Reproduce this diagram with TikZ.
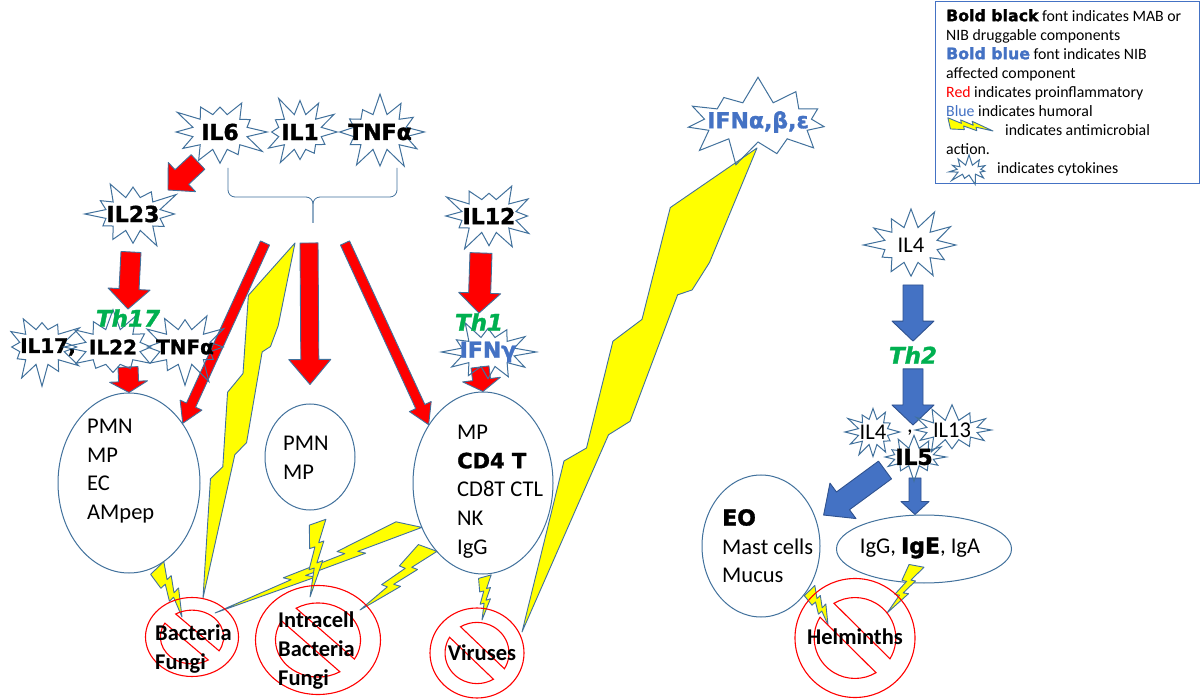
\documentclass[tikz,border=0pt]{standalone}
\usepackage{fontspec}
\setmainfont{Carlito}
\newfontfamily\heavyfont{DejaVu Sans}[ItalicFont={DejaVu Sans Oblique},BoldItalicFont={DejaVu Sans Bold Oblique},BoldFeatures={FakeBold=1.5},BoldItalicFeatures={FakeBold=1.5}]
\usetikzlibrary{shapes.symbols,shapes.geometric,calc}

\definecolor{lineblue}{HTML}{41719C}
\definecolor{proired}{HTML}{FF0000}
\definecolor{humblue}{HTML}{4472C4}
\definecolor{humedge}{HTML}{2F528F}
\definecolor{thgreen}{HTML}{00B050}
\definecolor{boltyellow}{HTML}{FFFF00}

\pgfdeclarelayer{bottom}
\pgfdeclarelayer{back}
\pgfsetlayers{bottom,back,main}

\newcommand{\cellfont}{\fontsize{22.5}{28.6}\selectfont}
\newcommand{\cytofont}{\heavyfont\bfseries\fontsize{22}{24}\selectfont}
\newcommand{\smallcyto}{\heavyfont\bfseries\fontsize{20}{24}\selectfont}
\newcommand{\thfont}{\heavyfont\bfseries\itshape\fontsize{23}{24}\selectfont}
\newcommand{\signfont}{\bfseries\fontsize{22.5}{28.6}\selectfont}
\newcommand{\legfont}{\fontsize{15.8}{19}\selectfont}
\newcommand{\heavy}[1]{{\heavyfont\bfseries #1}}

\tikzset{
  cell/.style={ellipse, draw=lineblue, line width=1pt, fill=white, inner sep=0pt},
  celltext/.style={font=\cellfont, align=left, anchor=north west, inner sep=0pt},
  cyto/.style={starburst, starburst points=12, starburst point height=22pt,
    random starburst=#1, draw=lineblue, line width=1pt, inner sep=0pt},
  cyto/.default=11,
  cytotext/.style={font=\cytofont, inner sep=0pt},
  thlabel/.style={font=\thfont, text=thgreen, inner sep=0pt},
  signtext/.style={font=\signfont, align=left, inner sep=0pt},
  nosign/.style 2 args={ellipse, draw=proired, line width=1.1pt, inner sep=0pt,
    minimum width=#1, minimum height=#2,
    path picture={\draw[proired, line width=1.1pt,
      shift={(path picture bounding box.center)}, x=#1/2, y=#2/2]
      (-31:0.68) arc[start angle=-31, end angle=121, radius=0.68] -- cycle
      (149:0.68) arc[start angle=149, end angle=301, radius=0.68] -- cycle;}},
  redarrow/.style={fill=proired, draw=lineblue, line width=0.9pt, line join=round},
  bluearrow/.style={fill=humblue, draw=humedge, line width=0.9pt, line join=round},
  boltline/.style={fill=boltyellow, draw=lineblue, line width=0.9pt, line join=round}
}

% block arrow: style, from, to, shaft half width, head half width, head length
\newcommand{\blockarrow}[6]{%
  \filldraw[#1] ($(#2)!#4!90:(#3)$)
    -- ($(#3)!#6!(#2)!#4!-90:(#2)$)
    -- ($(#3)!#6!(#2)!#5!-90:(#2)$)
    -- (#3)
    -- ($(#3)!#6!(#2)!#5!90:(#2)$)
    -- ($(#3)!#6!(#2)!#4!90:(#2)$)
    -- ($(#2)!#4!-90:(#3)$) -- cycle;}

% lightning: from, to, half width
\newcommand{\bolt}[3]{%
  \filldraw[boltline]
    ($(#1)!0.095!(#2)!-0.88*#3!90:(#2)$) -- ($(#1)!0.88*#3!90:(#2)$)
    -- ($(#1)!0.305!(#2)!0.35*#3!90:(#2)$) -- ($(#1)!0.276!(#2)!0.9*#3!90:(#2)$)
    -- ($(#1)!0.562!(#2)!0.38*#3!90:(#2)$) -- ($(#1)!0.524!(#2)!1.0*#3!90:(#2)$)
    -- (#2)
    -- ($(#1)!0.629!(#2)!0.14*#3!90:(#2)$) -- ($(#1)!0.657!(#2)!-0.41*#3!90:(#2)$)
    -- ($(#1)!0.362!(#2)!-0.02*#3!90:(#2)$) -- ($(#1)!0.39!(#2)!-0.59*#3!90:(#2)$)
    -- cycle;}

% long lightning, pointed at both ends
\newcommand{\longbolt}[3]{%
  \filldraw[boltline] (#1)
    -- ($(#1)!0.17!(#2)!-1.0*#3!90:(#2)$) -- ($(#1)!0.38!(#2)!-0.55*#3!90:(#2)$)
    -- ($(#1)!0.44!(#2)!-0.87*#3!90:(#2)$) -- ($(#1)!0.64!(#2)!-0.43*#3!90:(#2)$)
    -- ($(#1)!0.68!(#2)!-0.71*#3!90:(#2)$) -- (#2)
    -- ($(#1)!0.6!(#2)!-0.16*#3!90:(#2)$) -- ($(#1)!0.56!(#2)!0.1*#3!90:(#2)$)
    -- ($(#1)!0.31!(#2)!-0.14*#3!90:(#2)$) -- ($(#1)!0.29!(#2)!0.07*#3!90:(#2)$)
    -- ($(#1)!0.23!(#2)!0.14*#3!90:(#2)$) -- cycle;}

\begin{document}
\begin{tikzpicture}[x=1pt, y=-1pt]

  \useasboundingbox (0,0) rectangle (1200,700);

  \begin{pgfonlayer}{bottom}
    \fill[white] (0,0) rectangle (1200,700);

    % cells
    \node[cell, minimum width=142pt, minimum height=180pt] (e1) at (129,483) {};
    \node[cell, minimum width=90pt, minimum height=106pt] (e2) at (310,457) {};
    \node[cell, minimum width=140pt, minimum height=182pt] (e3) at (483,483) {};
    \node[cell, minimum width=118pt, minimum height=142pt] (eo) at (761,546) {};
    \node[cell, minimum width=175pt, minimum height=68pt] (igg) at (924,549) {};
  \end{pgfonlayer}

  \node[celltext] (e1txt) at (87,419) {PMN\\MP\\EC\\AMpep};
  \node[celltext] (e2txt) at (283,436) {PMN\\MP};
  \node[celltext] (e3txt) at (457,425) {MP\\{\heavyfont\bfseries\fontsize{21}{28.6}\selectfont CD4 T}\\CD8T CTL\\NK\\IgG};
  \node[celltext] (eotxt) at (722,509) {{\heavyfont\bfseries\fontsize{22}{28.6}\selectfont EO}\\Mast cells\\Mucus};
  \node[font=\cellfont, inner sep=0pt] (iggtxt) at (920,548) {IgG, {\heavyfont\bfseries\fontsize{22}{28}\selectfont IgE}, IgA};

  % pathogens
  \node[nosign={93pt}{79pt}] (bact) at (192,637) {};
  \node[nosign={125pt}{109pt}] (intra) at (318,640) {};
  \node[nosign={94pt}{90pt}] (vir) at (477,653) {};
  \node[nosign={120pt}{119pt}] (helm) at (855,638) {};

  % cytokines
  \node[cyto=3, minimum width=100pt, minimum height=80pt,
    label={[cytotext]center:IL6}] (il6) at (220,132) {};
  \node[cyto=5, minimum width=88pt, minimum height=80pt,
    label={[cytotext]center:IL1}] (il1) at (300,132) {};
  \node[cyto=7, minimum width=98pt, minimum height=80pt,
    label={[cytotext]center:TNFα}] (tnfa) at (380,132) {};
  \node[cyto=9, minimum width=100pt, minimum height=78pt,
    label={[cytotext]center:IL23}] (il23) at (133,214) {};
  \node[cyto=13, minimum width=90pt, minimum height=80pt,
    label={[cytotext, font=\smallcyto, xshift=6pt]center:{IL17,}}] (il17) at (42,347) {};
  \node[cyto=17, minimum width=100pt, minimum height=80pt,
    label={[cytotext, font=\smallcyto]center:IL22}] (il22) at (113,347) {};
  \node[cyto=19, minimum width=96pt, minimum height=80pt,
    label={[cytotext, font=\smallcyto]center:TNFα}] (tnfb) at (185,347) {};
  \node[cyto=23, minimum width=100pt, minimum height=78pt,
    label={[cytotext]center:IL12}] (il12) at (489,216) {};
  \node[cyto=29, minimum width=98pt, minimum height=74pt,
    label={[cytotext, text=humblue]center:IFNγ}] (ifng) at (488,352) {};
  \node[cyto=31, starburst points=11, starburst point height=36pt,
    minimum width=180pt, minimum height=112pt,
    label={[cytotext, text=humblue]center:IFNα,β,ε}] (ifna) at (758,122) {};
  \node[cyto=37, minimum width=98pt, minimum height=80pt,
    label={[font=\cellfont, inner sep=0pt]center:IL4}] (il4a) at (911,245) {};
  \node[cyto=41, starburst point height=16pt, minimum width=62pt, minimum height=58pt,
    label={[font=\cellfont, inner sep=0pt]center:IL4}] (il4b) at (873,432) {};
  \node[cyto=43, starburst point height=16pt, minimum width=84pt, minimum height=52pt,
    label={[font=\cellfont, inner sep=0pt]center:IL13}] (il13) at (952,430) {};
  \node[font=\cellfont, inner sep=0pt] (sep) at (910,433) {,};
  \node[cyto=47, starburst point height=16pt, minimum width=72pt, minimum height=50pt,
    label={[cytotext]center:IL5}] (il5) at (914,457) {};

  \node[thlabel] (th17) at (128,318) {Th17};
  \node[thlabel] (th1) at (479,322) {Th1};
  \node[thlabel] (th2) at (913,355) {Th2};

  % brace under IL6, IL1, TNFa
  \draw[lineblue, line width=0.8pt, rounded corners=7pt]
    (228,168) -- (228,197) -- (313,197) -- (313,223);
  \draw[lineblue, line width=0.8pt, rounded corners=7pt]
    (397,168) -- (397,197) -- (313,197) -- (313,223);

  % legend
  \node[draw=humblue, line width=1.2pt, minimum width=264pt, minimum height=182pt,
    anchor=north west, inner sep=0pt] (legend) at (935,1) {};
  \node[font=\legfont, align=left, anchor=north west, inner sep=0pt] (legtxt) at (946,9)
    {\heavy{Bold black} font indicates MAB or\\
     NIB druggable components\\
     {\color{humblue}\heavy{Bold blue}} font indicates NIB\\
     affected component\\
     {\color{proired}Red} indicates proinflammatory\\
     {\color{humblue}Blue} indicates humoral\\
     \hspace*{59pt}indicates antimicrobial\\
     action.\\
     \hspace*{51pt}indicates cytokines};
  \node[cyto=53, starburst points=11, starburst point height=11pt,
    minimum width=46pt, minimum height=32pt] (legstar) at (969,170) {};
  \coordinate (legb1) at (947,123);
  \coordinate (legb2) at (993,131);

  \begin{pgfonlayer}{back}
    % red arrows
    \coordinate (a6s) at ($(il6)+(-22,30)$);
    \coordinate (a6e) at ($(il23)+(35,-24)$);
    \blockarrow{redarrow}{a6s}{a6e}{10pt}{20pt}{19pt}
    \coordinate (a23s) at ($(il23)+(-2,38)$);
    \blockarrow{redarrow}{a23s}{th17.north}{10pt}{21pt}{20pt}
    \coordinate (a22s) at ($(il22)+(15,20)$);
    \blockarrow{redarrow}{a22s}{e1.north}{10pt}{19pt}{11pt}

    \coordinate (lsrc) at (265,243);
    \coordinate (msrc) at (309,243);
    \coordinate (rsrc) at (345,243);
    \coordinate (mtip) at ($(e2.north)+(0,-19)$);
    \blockarrow{redarrow}{lsrc}{e1.48}{5pt}{12pt}{20pt}
    \blockarrow{redarrow}{msrc}{mtip}{9pt}{21pt}{25pt}
    \blockarrow{redarrow}{rsrc}{e3.133}{5pt}{12pt}{20pt}

    \coordinate (a12s) at ($(il12)+(-8,37)$);
    \blockarrow{redarrow}{a12s}{th1.north}{11pt}{21pt}{20pt}
    \coordinate (agam) at ($(ifng)+(-8,15)$);
    \blockarrow{redarrow}{agam}{e3.north}{9pt}{19pt}{12pt}

    % blue arrows
    \coordinate (a4s) at ($(il4a)+(2,40)$);
    \coordinate (th2top) at ($(th2.north)+(0,-5)$);
    \blockarrow{bluearrow}{a4s}{th2top}{10pt}{21pt}{20pt}
    \coordinate (th2bot) at ($(th2.south)+(0,5)$);
    \coordinate (il5top) at ($(il5)+(-1,-32)$);
    \blockarrow{bluearrow}{th2bot}{il5top}{10pt}{21pt}{20pt}
    \coordinate (a5l) at ($(il5)+(-29,13)$);
    \coordinate (eotip) at ($(eo.30)+(9,0)$);
    \blockarrow{bluearrow}{a5l}{eotip}{11pt}{22pt}{24pt}
    \coordinate (a5d) at ($(il5)+(1,21)$);
    \coordinate (iggtip) at ($(igg.north)+(-9,0)$);
    \blockarrow{bluearrow}{a5d}{iggtip}{6pt}{14pt}{13pt}

    % antimicrobial action
    \coordinate (b1s) at ($(e1.south)+(27,-8)$);
    \coordinate (b1e) at ($(bact)+(-10,-20)$);
    \bolt{b1s}{b1e}{10pt}
    \coordinate (bsrc) at (295,243);
    \coordinate (b2e) at ($(bact)+(11,-39)$);
    \longbolt{bsrc}{b2e}{32pt}
    \coordinate (b3e) at ($(bact)+(23,-24)$);
    \bolt{e3.210}{b3e}{9pt}
    \coordinate (b4s) at ($(e2.south)+(8,8)$);
    \coordinate (b4e) at ($(intra)+(-8,-43)$);
    \bolt{b4s}{b4e}{9pt}
    \coordinate (b5e) at ($(intra)+(42,-30)$);
    \bolt{e3.230}{b5e}{10pt}
    \coordinate (b6s) at ($(e3.south)+(2,0)$);
    \coordinate (b6e) at ($(vir)+(5,-33)$);
    \bolt{b6s}{b6e}{7pt}
    \coordinate (b7s) at ($(ifna)+(-1,26)$);
    \coordinate (b7e) at ($(vir)+(45,-21)$);
    \longbolt{b7s}{b7e}{52pt}
    \coordinate (b8e) at ($(helm)+(-27,-13)$);
    \bolt{eo.-42}{b8e}{8pt}
    \coordinate (b9s) at ($(igg.south)+(-6,-20)$);
    \coordinate (b9e) at ($(helm)+(32,-25)$);
    \bolt{b9s}{b9e}{8pt}
    \bolt{legb1}{legb2}{6pt}
  \end{pgfonlayer}

  % pathogen names
  \node[signtext, anchor=north west] (bacttxt) at (155,625) {Bacteria\\Fungi};
  \node[signtext, anchor=north west] (intratxt) at (278,612) {Intracell\\Bacteria\\Fungi};
  \node[signtext] (virtxt) at (482,653) {Viruses};
  \node[signtext] (helmtxt) at (855,637) {Helminths};

\end{tikzpicture}
\end{document}
